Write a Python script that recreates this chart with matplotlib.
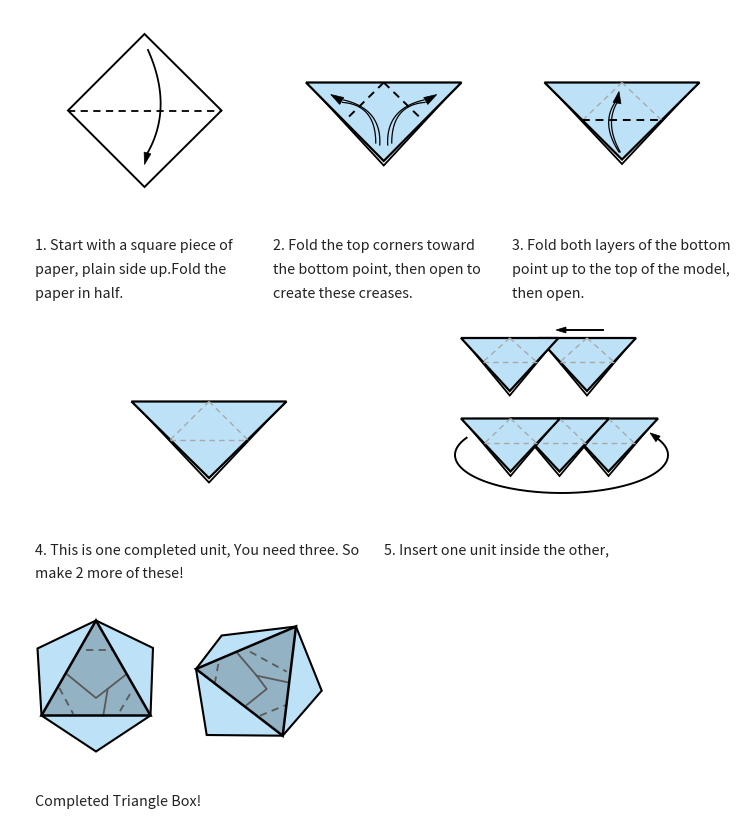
import numpy as np
import matplotlib
matplotlib.use("Agg")
import matplotlib.pyplot as plt
from matplotlib.patches import Polygon

# ---------------- data (text and shape geometry in pixel space) ----------------
step_texts = [
    ["1. Start with a square piece of", "paper, plain side up.Fold the", "paper in half."],
    ["2. Fold the top corners toward", "the bottom point, then open to", "create these creases."],
    ["3. Fold both layers of the bottom", "point up to the top of the model,", "then open."],
    ["4. This is one completed unit, You need three. So", "make 2 more of these!"],
    ["5. Insert one unit inside the other,"],
    ["Completed Triangle Box!"],
]
text_x = [35, 273, 512, 35, 384, 35]
text_y0 = [249.5, 249.5, 249.5, 554.5, 554.5, 806.5]
line_gap = 24

# step 1 square (diamond)
sq_top, sq_left, sq_right, sq_bottom = (144.5, 35), (68, 111.5), (221.5, 111.5), (144.5, 188)
# apex-down triangles: (left_x, right_x, top_y, bottom_y)
tri_step2 = (306, 461.5, 83.5, 162)
tri_step3 = (544.5, 699.5, 83.5, 160.5)
tri_step4 = (131.5, 286.5, 402.5, 479)
tri_row1 = [(538, 636, 339, 392), (461, 558.5, 339, 392)]
tri_row2 = [(559, 658, 419.5, 472.5), (510, 609, 419.5, 472.5), (461, 560, 419.5, 472.5)]

# final box shapes
hex_left = [(96, 621.5), (153, 649), (150.5, 716.5), (96, 752.5), (41.5, 716.5), (37.5, 649.5)]
hex_left_tri = [(96, 621.5), (41.5, 716.5), (150.5, 716.5)]
hex_left_solid = [[(66.7, 675), (96, 699), (126.7, 675)], [(107.7, 690), (103.3, 716.5)]]
hex_left_dash = [[(86, 650.5), (113.3, 650.5)], [(59.3, 689), (73.3, 715)], [(130, 695), (118.3, 715)]]

box_right = [(196, 670), (221.7, 636.5), (296, 627.5), (321.7, 691.7), (282.7, 736.7), (206.7, 736)]
box_right_tri = [(196, 670), (296, 627.5), (282.7, 736.7)]
box_right_solid = [[(236.7, 653.3), (256.7, 676.7), (266.7, 690), (246.7, 706)],
                   [(256.7, 676.7), (287.7, 683.3)]]
box_right_dash = [[(250, 652.7), (286.7, 672.7)], [(218.3, 665), (215, 683.3)],
                  [(260, 716.7), (286, 706)]]

LIGHT = "#bde2f7"
DARK = "#93b2c3"
GREY_DASH = "#a9a9a9"
INNER = "#5a5a5a"

plt.rcParams['font.family'] = ['Noto Sans CJK SC', 'DejaVu Sans']

fig = plt.figure(figsize=(7.55, 8.29), dpi=100)
ax = fig.add_axes([0, 0, 1, 1])
ax.set_xlim(0, 755)
ax.set_ylim(829, 0)
ax.axis("off")


def arrowhead(tip, base, width=7, color="black", z=10):
    tip = np.array(tip, float); base = np.array(base, float)
    d = tip - base
    n = np.array([-d[1], d[0]]) / np.hypot(*d)
    pts = [tip, base + n * width / 2, base - n * width / 2]
    ax.add_patch(Polygon(pts, closed=True, facecolor=color, edgecolor=color, lw=0.5, zorder=z))


def bezier(p0, c, p2, n=60):
    t = np.linspace(0, 1, n)[:, None]
    p0, c, p2 = map(lambda v: np.array(v, float), (p0, c, p2))
    return (1 - t) ** 2 * p0 + 2 * (1 - t) * t * c + t ** 2 * p2


def unit(tri, frac=0.49, crease="grey", black_horiz=False, z=2):
    lx, rx, ty, by = tri
    bx = (lx + rx) / 2
    # lower layer: same top, bottom point a little lower
    off = 4.5
    ax.add_patch(Polygon([(lx + 1.5, ty + 0.5), (rx - 1.5, ty + 0.5), (bx, by + off)], closed=True,
                         facecolor="white", edgecolor="black", lw=1.3, zorder=z, joinstyle="miter"))
    ax.add_patch(Polygon([(lx, ty), (rx, ty), (bx, by)], closed=True,
                         facecolor=LIGHT, edgecolor="black", lw=1.6, zorder=z + 0.1, joinstyle="miter"))
    if crease is None:
        return
    yy = ty + (by - ty) * frac
    xl = lx + (bx - lx) * frac
    xr = rx - (rx - bx) * frac
    col = GREY_DASH
    ax.plot([bx, xl], [ty, yy], color=col, lw=1, dashes=(4, 3), zorder=z + 0.2)
    ax.plot([bx, xr], [ty, yy], color=col, lw=1, dashes=(4, 3), zorder=z + 0.2)
    if black_horiz:
        ax.plot([xl, xr], [yy, yy], color="black", lw=1.4, dashes=(4, 3), zorder=z + 0.3)
    else:
        ax.plot([xl, xr], [yy, yy], color=col, lw=1, dashes=(4, 3), zorder=z + 0.2)


# ---------------- step 1 ----------------
ax.add_patch(Polygon([sq_top, sq_right, sq_bottom, sq_left], closed=True,
                     facecolor="white", edgecolor="black", lw=1.4, zorder=2))
ax.plot([sq_left[0], sq_right[0]], [sq_left[1], sq_right[1]], color="black", lw=1.3,
        dashes=(4, 3), zorder=3)
c = bezier((148, 51), (173.5, 108), (147.5, 154))
ax.plot(c[:, 0], c[:, 1], color="black", lw=1.3, zorder=4)
arrowhead((144.5, 165.5), c[-1], width=7)

# ---------------- step 2 ----------------
lx, rx, ty, by = tri_step2
unit(tri_step2, crease=None)
bx = (lx + rx) / 2
ax.plot([bx, 345], [ty, 121.5], color="black", lw=1.4, dashes=(4, 3), zorder=3)
ax.plot([bx, 422], [ty, 120.5], color="black", lw=1.4, dashes=(4, 3), zorder=3)
for sgn in (-1, 1):
    for k, dx in enumerate((0, 4)):
        p0 = (bx + sgn * (4 + dx), 146 - dx * 0.5)
        cc = (bx + sgn * (2 + dx * 1.5), 110 - dx)
        p2 = (bx + sgn * (40 + dx * 0.3), 101 + dx * 0.6)
        cv = bezier(p0, cc, p2)
        ax.plot(cv[:, 0], cv[:, 1], color="black", lw=0.9, zorder=4)
    arrowhead((bx + sgn * 53, 95.5), (bx + sgn * 42, 102), width=8)

# ---------------- step 3 ----------------
unit(tri_step3, frac=0.49, black_horiz=True)
for dx in (0, 4):
    cv = bezier((619 + dx * 0.3, 153), (600 + dx, 124), (616 + dx * 0.5, 102))
    ax.plot(cv[:, 0], cv[:, 1], color="black", lw=0.9, zorder=4)
arrowhead((619, 92.5), (617, 104), width=8)

# ---------------- step 4 ----------------
unit(tri_step4, frac=0.5)

# ---------------- step 5 ----------------
for i, t in enumerate(tri_row1):
    unit(t, frac=0.45, z=2 + i)
ax.plot([603, 565], [331, 331], color="black", lw=1.4, zorder=6)
arrowhead((556, 331), (566, 331), width=6)
for i, t in enumerate(tri_row2):
    unit(t, frac=0.47, z=2 + i)
cx, cy, a, b = 561.5, 456, 106.5, 38
tt = np.radians(np.linspace(207, -25, 200))
ax.plot(cx + a * np.cos(tt), cy + b * np.sin(tt), color="black", lw=1.4, zorder=6)
end = np.array([cx + a * np.cos(tt[-1]), cy + b * np.sin(tt[-1])])
d = np.array([a * np.sin(tt[-1]), -b * np.cos(tt[-1])])
d = d / np.hypot(*d)
arrowhead(end + d * 10, end, width=7)

# ---------------- final box ----------------
for outer, tri, solid, dash in ((hex_left, hex_left_tri, hex_left_solid, hex_left_dash),
                                (box_right, box_right_tri, box_right_solid, box_right_dash)):
    ax.add_patch(Polygon(outer, closed=True, facecolor=LIGHT, edgecolor="black", lw=1.5,
                         zorder=2, joinstyle="miter"))
    ax.add_patch(Polygon(tri, closed=True, facecolor=DARK, edgecolor="none", zorder=3))
    for s in solid:
        s = np.array(s)
        ax.plot(s[:, 0], s[:, 1], color=INNER, lw=1.3, zorder=4)
    for s in dash:
        s = np.array(s)
        ax.plot(s[:, 0], s[:, 1], color=INNER, lw=1.3, dashes=(4, 3), zorder=4)
    ax.add_patch(Polygon(tri, closed=True, facecolor="none", edgecolor="black", lw=1.8,
                         zorder=5, joinstyle="miter"))

# ---------------- texts ----------------
for lines, x, y0 in zip(step_texts, text_x, text_y0):
    for j, line in enumerate(lines):
        ax.text(x, y0 + j * line_gap, line, fontsize=10.3, color="#222222",
                ha="left", va="baseline")

fig.savefig("out.png", dpi=100)
